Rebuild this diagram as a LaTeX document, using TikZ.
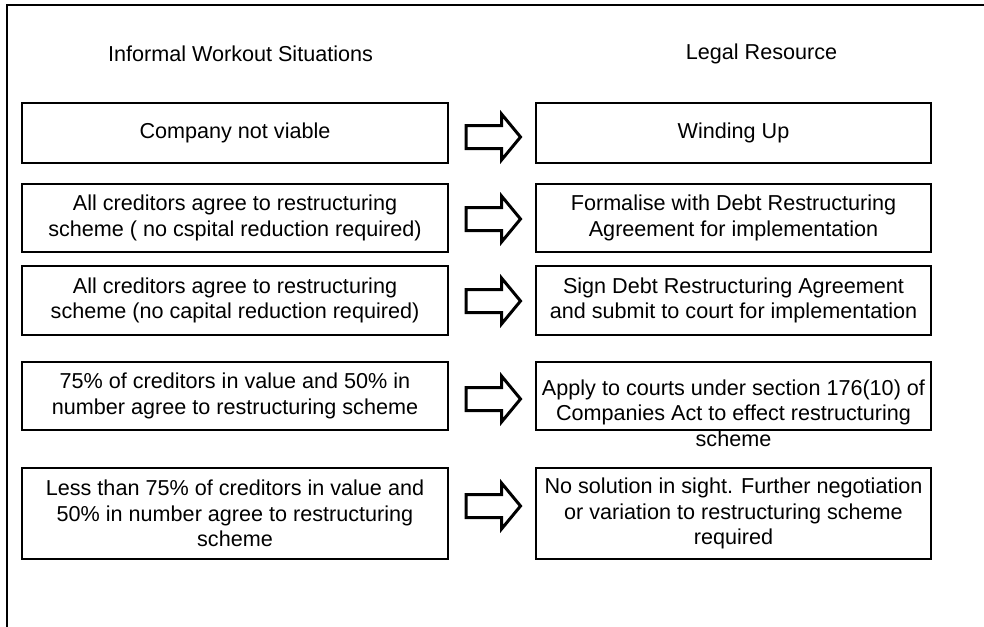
\documentclass[tikz,border=0pt]{standalone}
\usepackage{fontspec}
\setmainfont{Liberation Sans}
\begin{document}
\begin{tikzpicture}[x=1pt,y=-1pt,
  every node/.style={font=\fontsize{21.6}{25.5}\selectfont},
  box/.style={draw, line width=2pt, align=center, inner sep=0pt},
  leftbox/.style={box, minimum width=426pt},
  rightbox/.style={box, minimum width=395pt},
  plain/.style={align=center, inner sep=0pt},
  fatarrow/.pic={
    \draw[line width=3pt, line join=miter]
      (-27.5,-11.5) -- (8,-11.5) -- (8,-23) -- (27,0)
      -- (8,23) -- (8,11.5) -- (-27.5,11.5) -- cycle;},
  frame/.style={line width=2pt}]

\useasboundingbox (0,0) rectangle (984,626);

% open frame: top and left edges only
\coordinate (fbl) at (7,632);
\coordinate (ftl) at (7,5);
\coordinate (ftr) at (990,5);
\draw[frame] (fbl) -- (ftl) -- (ftr);

% column headings
\node[plain] (hl) at (240.5,54) {Informal Workout Situations};
\node[plain] (hr) at (761.5,54) {Legal Resource};

% situations
\node[leftbox, minimum height=60pt] (l1) at (235,133) {Company not viable};
\node[leftbox, minimum height=68pt] (l2) at (235,218)
  {All creditors agree to restructuring\\scheme ( no cspital reduction required)};
\node[leftbox, minimum height=69pt] (l3) at (235,300.5)
  {All creditors agree to restructuring\\scheme (no capital reduction required)};
\node[leftbox, minimum height=68pt] (l4) at (235,396)
  {75\% of creditors in value and 50\% in\\number agree to restructuring scheme};
\node[leftbox, minimum height=91pt] (l5) at (235,513.5)
  {Less than 75\% of creditors in value and\\50\% in number agree to restructuring\\scheme};

% legal resources
\node[rightbox, minimum height=60pt] (r1) at (733.5,133) {Winding Up};
\node[rightbox, minimum height=68pt] (r2) at (733.5,218)
  {Formalise with Debt Restructuring\\Agreement for implementation};
\node[rightbox, minimum height=69pt] (r3) at (733.5,300.5)
  {Sign Debt Restructuring Agreement\\and submit to court for implementation};
\node[rightbox, minimum height=68pt] (r4) at (733.5,396) {};
\node[plain] (r4t) at (733.5,413)
  {Apply to courts under section 176(10) of\\Companies Act to effect restructuring\\scheme};
\node[rightbox, minimum height=91pt] (r5) at (733.5,513.5)
  {No solution in sight. Further negotiation\\or variation to restructuring scheme\\required};

% block arrows between the columns
\pic at (493.5,137) {fatarrow};
\pic at (493.5,219) {fatarrow};
\pic at (493.5,301) {fatarrow};
\pic at (493.5,399) {fatarrow};
\pic at (493.5,506) {fatarrow};

\end{tikzpicture}
\end{document}
